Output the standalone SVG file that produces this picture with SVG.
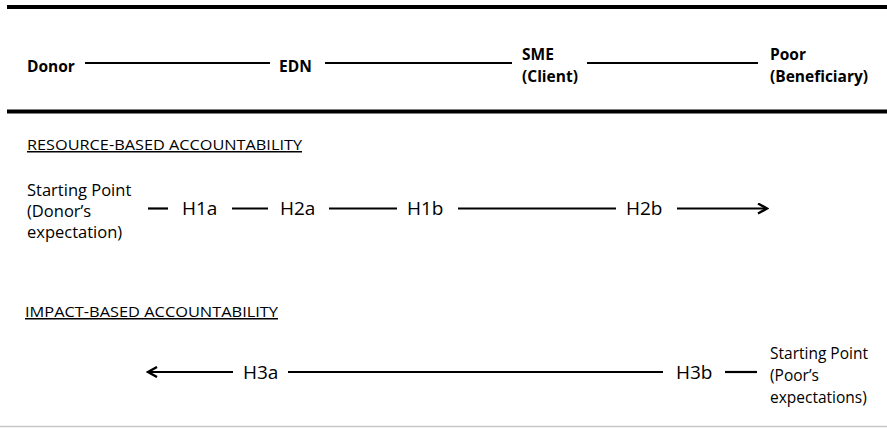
<svg xmlns="http://www.w3.org/2000/svg" width="887" height="428" viewBox="0 0 887 428">
<defs>
<style>
.hd{font-family:"Open Sans","Noto Sans",sans-serif;font-weight:bold;font-size:15.5px;fill:#000}
.sp{font-family:"Open Sans","Noto Sans",sans-serif;font-size:16.5px;fill:#000}
.sp2{font-family:"Open Sans","Noto Sans",sans-serif;font-size:15.5px;fill:#000}
.hl{font-family:"Open Sans","Noto Sans",sans-serif;font-size:19px;fill:#000}
.tt{font-family:"Open Sans","Noto Sans",sans-serif;font-size:15px;fill:#000;text-decoration:underline}
.ln{stroke:#000;stroke-width:2.2;fill:none}
.rule{stroke:#000;stroke-width:4}
</style>
<marker id="ah" viewBox="0 0 12 12" refX="10" refY="6" markerWidth="12" markerHeight="12" markerUnits="userSpaceOnUse" orient="auto-start-reverse">
<path d="M1,1 L10,6 L1,11" fill="none" stroke="#000" stroke-width="2.4"/>
</marker>
</defs>
<rect width="887" height="428" fill="#fff"/>
<g id="frame">
<line class="rule" x1="7" y1="7" x2="887" y2="7"/>
<line class="rule" x1="7" y1="111.5" x2="887" y2="111.5"/>
<line x1="0" y1="426.5" x2="887" y2="426.5" stroke="#c8c8c8" stroke-width="1.5"/>
</g>
<g id="connectors">
<line class="ln" x1="85" y1="63" x2="270" y2="63"/>
<line class="ln" x1="325" y1="63" x2="512" y2="63"/>
<line class="ln" x1="587" y1="63" x2="758" y2="63"/>
<line class="ln" x1="148" y1="208.5" x2="168" y2="208.5"/>
<line class="ln" x1="232" y1="208.5" x2="268" y2="208.5"/>
<line class="ln" x1="329" y1="208.5" x2="397" y2="208.5"/>
<line class="ln" x1="458" y1="208.5" x2="616" y2="208.5"/>
<line class="ln" x1="677" y1="208.5" x2="767" y2="208.5" marker-end="url(#ah)"/>
<line class="ln" x1="148" y1="372" x2="233" y2="372" marker-start="url(#ah)"/>
<line class="ln" x1="288" y1="372" x2="663" y2="372"/>
<line class="ln" x1="725" y1="372" x2="757" y2="372"/>
</g>
<g id="donor"><text class="hd" x="27" y="72">Donor</text></g>
<g id="edn"><text class="hd" x="279" y="72">EDN</text></g>
<g id="sme"><text class="hd" x="522" y="60">SME</text><text class="hd" x="522" y="82">(Client)</text></g>
<g id="poor"><text class="hd" x="770" y="60">Poor</text><text class="hd" x="770" y="82">(Beneficiary)</text></g>
<g id="title-resource"><text class="tt" x="27" y="150" textLength="275" lengthAdjust="spacingAndGlyphs">RESOURCE-BASED ACCOUNTABILITY</text></g>
<g id="start-donor">
<text class="sp" x="27" y="196">Starting Point</text>
<text class="sp" x="27" y="217">(Donor’s</text>
<text class="sp" x="27" y="238">expectation)</text>
</g>
<g id="h1a"><text class="hl" x="182" y="215">H1a</text></g>
<g id="h2a"><text class="hl" x="280" y="215">H2a</text></g>
<g id="h1b"><text class="hl" x="407" y="215">H1b</text></g>
<g id="h2b"><text class="hl" x="626" y="215">H2b</text></g>
<g id="title-impact"><text class="tt" x="25" y="317" textLength="253" lengthAdjust="spacingAndGlyphs">IMPACT-BASED ACCOUNTABILITY</text></g>
<g id="h3a"><text class="hl" x="243" y="379">H3a</text></g>
<g id="h3b"><text class="hl" x="676" y="379">H3b</text></g>
<g id="start-poor">
<text class="sp2" x="770" y="359">Starting Point</text>
<text class="sp2" x="770" y="381">(Poor’s</text>
<text class="sp2" x="770" y="403">expectations)</text>
</g>
</svg>
